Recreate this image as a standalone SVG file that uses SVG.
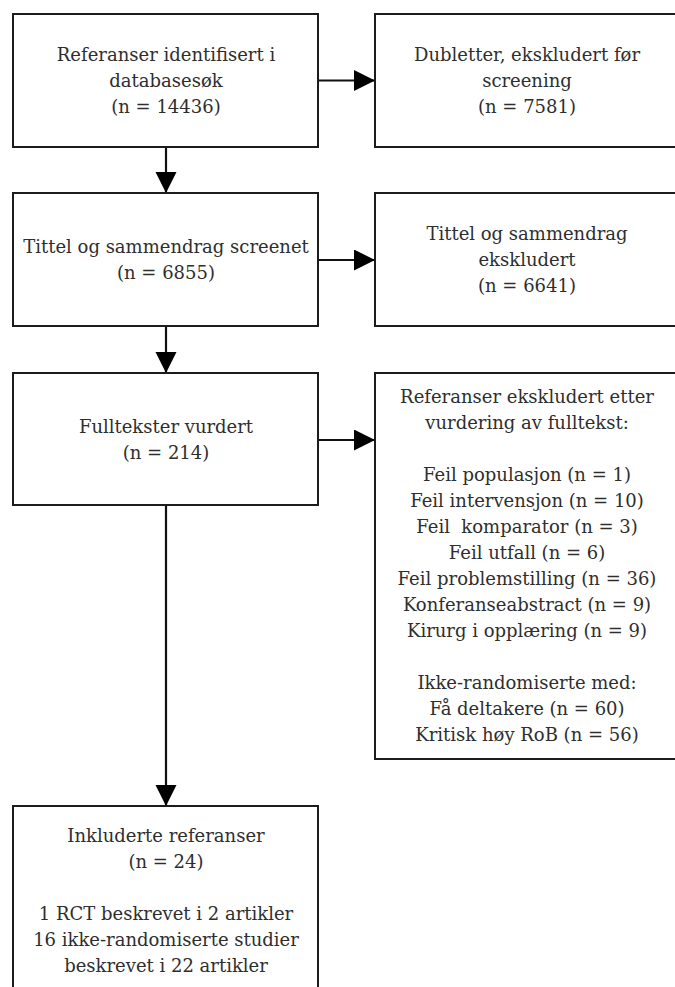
<svg xmlns="http://www.w3.org/2000/svg" width="675" height="987" viewBox="0 0 675 987">
<style>
  .box { fill: #ffffff; stroke: #1c1c1c; stroke-width: 2; }
  .lbl { font-family: "DejaVu Serif", "Liberation Serif", serif; font-size: 18px; fill: #2e2e2e; text-anchor: middle; white-space: pre; }
  .conn { stroke: #111111; stroke-width: 2.2; fill: none; marker-end: url(#ah); }
</style>
<defs>
  <marker id="ah" markerUnits="userSpaceOnUse" markerWidth="22" markerHeight="22" refX="21" refY="10.5" orient="auto">
    <path d="M0,0 L21,10.5 L0,21 Z" fill="#000000"/>
  </marker>
</defs>
<rect width="675" height="987" fill="#ffffff"/>

<g id="connectors">
  <line class="conn" x1="318" y1="80.5" x2="375" y2="80.5"/>
  <line class="conn" x1="166" y1="147" x2="166" y2="193"/>
  <line class="conn" x1="318" y1="260" x2="375" y2="260"/>
  <line class="conn" x1="166" y1="326" x2="166" y2="373"/>
  <line class="conn" x1="318" y1="440" x2="375" y2="440"/>
  <line class="conn" x1="166" y1="505" x2="166" y2="806"/>
</g>

<g id="n-identified">
  <rect class="box" x="13" y="14" width="305" height="133"/>
  <text class="lbl" x="166" y="61">Referanser identifisert i</text>
  <text class="lbl" x="166" y="87">databasesøk</text>
  <text class="lbl" x="166" y="113">(n = 14436)</text>
</g>

<g id="n-duplicates">
  <rect class="box" x="375" y="14" width="310" height="133"/>
  <text class="lbl" x="527" y="61">Dubletter, ekskludert før</text>
  <text class="lbl" x="527" y="87">screening</text>
  <text class="lbl" x="527" y="113">(n = 7581)</text>
</g>

<g id="n-screened">
  <rect class="box" x="13" y="193" width="305" height="133"/>
  <text class="lbl" x="166" y="253">Tittel og sammendrag screenet</text>
  <text class="lbl" x="166" y="279">(n = 6855)</text>
</g>

<g id="n-excluded-abstract">
  <rect class="box" x="375" y="193" width="310" height="133"/>
  <text class="lbl" x="527" y="240">Tittel og sammendrag</text>
  <text class="lbl" x="527" y="266">ekskludert</text>
  <text class="lbl" x="527" y="292">(n = 6641)</text>
</g>

<g id="n-fulltext">
  <rect class="box" x="13" y="373" width="305" height="132"/>
  <text class="lbl" x="166" y="433">Fulltekster vurdert</text>
  <text class="lbl" x="166" y="459">(n = 214)</text>
</g>

<g id="n-excluded-fulltext">
  <rect class="box" x="375" y="373" width="310" height="386"/>
  <text class="lbl" x="527" y="403">Referanser ekskludert etter</text>
  <text class="lbl" x="527" y="429">vurdering av fulltekst:</text>
  <text class="lbl" x="527" y="481">Feil populasjon (n = 1)</text>
  <text class="lbl" x="527" y="507">Feil intervensjon (n = 10)</text>
  <text class="lbl" x="527" y="533">Feil  komparator (n = 3)</text>
  <text class="lbl" x="527" y="559">Feil utfall (n = 6)</text>
  <text class="lbl" x="527" y="585">Feil problemstilling (n = 36)</text>
  <text class="lbl" x="527" y="611">Konferanseabstract (n = 9)</text>
  <text class="lbl" x="527" y="637">Kirurg i opplæring (n = 9)</text>
  <text class="lbl" x="527" y="689">Ikke-randomiserte med:</text>
  <text class="lbl" x="527" y="715">Få deltakere (n = 60)</text>
  <text class="lbl" x="527" y="741">Kritisk høy RoB (n = 56)</text>
</g>

<g id="n-included">
  <rect class="box" x="13" y="806" width="305" height="200"/>
  <text class="lbl" x="166" y="842">Inkluderte referanser</text>
  <text class="lbl" x="166" y="868">(n = 24)</text>
  <text class="lbl" x="166" y="920">1 RCT beskrevet i 2 artikler</text>
  <text class="lbl" x="166" y="946">16 ikke-randomiserte studier</text>
  <text class="lbl" x="166" y="972">beskrevet i 22 artikler</text>
</g>
</svg>
